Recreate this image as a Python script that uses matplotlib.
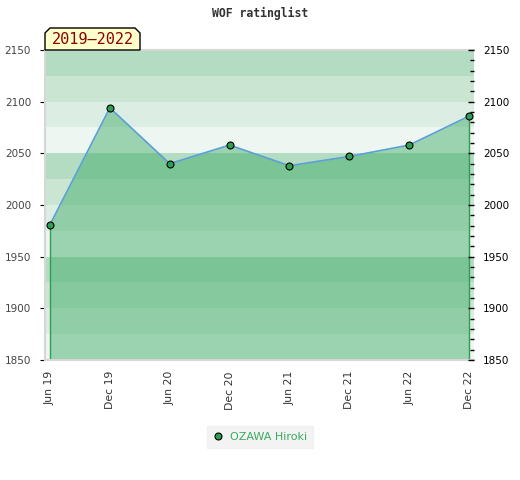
import numpy as np
import matplotlib.pyplot as plt
from matplotlib.patches import Polygon
from matplotlib.lines import Line2D

dates = ['Jun 19', 'Dec 19', 'Jun 20', 'Dec 20', 'Jun 21', 'Dec 21', 'Jun 22', 'Dec 22']
ratings = [1981, 2094, 2040, 2058, 2038, 2047, 2058, 2086]
player = 'OZAWA Hiroki'
period = '2019\u20132022'

ymin, ymax = 1850, 2150
# background bands, 25 points each, darkest at the top of every 100 block
band_colors = ['#eef6f1', '#dcede3', '#cae6d3', '#b3dcc3']

fig = plt.figure(figsize=(5.2, 4.8), dpi=100)
ax = fig.add_axes([45 / 520, 1 - 360 / 480, 429 / 520, 310 / 480])

x = np.arange(len(dates))
ax.set_xlim(-5 / 60, len(dates) - 1 + 5 / 60)
ax.set_ylim(ymin, ymax)

for i, lo in enumerate(range(ymin, ymax, 25)):
    ax.axhspan(lo, lo + 25, color=band_colors[i % 4], lw=0, zorder=0)

ax.fill_between(x, ratings, ymin, color='#39a861', alpha=0.46, lw=0, zorder=1)
ax.vlines([x[0], x[-1]], ymin, [ratings[0], ratings[-1]], color='#2e9e55', lw=1, zorder=2)
ax.plot(x, ratings, color='#5a9fd6', lw=1.2, zorder=3)
ax.plot(x, ratings, 'o', ms=5, mfc='#2e9e55', mec='black', mew=0.8, zorder=4)

ax.set_xticks(x)
ax.set_xticklabels(dates, rotation=90, fontsize=7.8, color='#333333')
ax.tick_params(axis='x', length=0, pad=8)

ax.set_yticks(range(ymin, ymax + 1, 50))
ax.tick_params(axis='y', left=False, labelsize=7.5, labelcolor='#444444', pad=6.5)

ax2 = ax.twinx()
ax2.set_ylim(ymin, ymax)
ax2.set_yticks(range(ymin, ymax + 1, 50))
ax2.set_yticks(range(ymin, ymax + 1, 10), minor=True)
ax2.tick_params(axis='y', which='major', direction='in', length=4, width=1, labelsize=7.5, pad=6.5)
ax2.tick_params(axis='y', which='minor', direction='in', length=3, width=1)

for a in (ax, ax2):
    for s in a.spines.values():
        s.set_visible(False)
for s in ('left', 'top', 'bottom'):
    ax.spines[s].set_visible(True)
    ax.spines[s].set_color('#d6d6d6')
    ax.spines[s].set_linewidth(1.5)

fig.text(0.5, 1 - 13 / 480, 'WOF ratinglist', ha='center', va='center',
         fontsize=8.3, fontweight='bold', family='DejaVu Sans Mono', color='#333333')

# period tag above the plot
x0, x1, y0, y1 = 45, 140, 50, 28
c = 5
tag = [(x0, 480 - y0), (x0, 480 - y1 - c), (x0 + c, 480 - y1), (x1 - c, 480 - y1),
       (x1, 480 - y1 - c), (x1, 480 - y0)]
fig.patches.append(Polygon([(px / 520, py / 480) for px, py in tag], closed=True,
                           transform=fig.transFigure, fc='#ffffcc', ec='black', lw=1, zorder=5))
fig.text((x0 + x1) / 2 / 520, 1 - 40 / 480, period, ha='center', va='center',
         fontsize=11, family='DejaVu Sans Mono', color='#8b0000', zorder=6)

handle = Line2D([], [], ls='none', marker='o', ms=5, mfc='#2e9e55', mec='black', mew=0.8)
leg = fig.legend([handle], [player], loc='center', bbox_to_anchor=(260 / 520, 1 - 437 / 480),
                 frameon=True, fontsize=8, handlelength=1, handletextpad=0.6, borderpad=0.3)
leg.get_frame().set_facecolor('#f0f0f0')
leg.get_frame().set_edgecolor('#f0f0f0')
leg.get_frame().set_boxstyle('square', pad=0.2)
for t in leg.get_texts():
    t.set_color('#3aa860')

fig.savefig('out.png', dpi=100)
